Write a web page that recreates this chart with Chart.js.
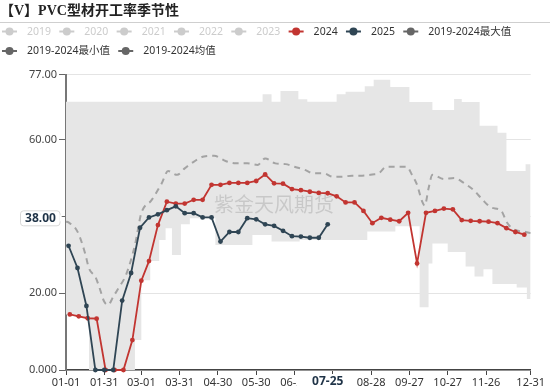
<!DOCTYPE html>
<html><head><meta charset="utf-8">
<script src="https://cdn.jsdelivr.net/npm/chart.js@4.4.1/dist/chart.umd.min.js"></script>
<style>html,body{margin:0;padding:0;background:#fff;}#wrap{width:550px;height:388px;position:relative;}</style>
</head><body><div id="wrap"><canvas id="c" width="550" height="388"></canvas></div>
<script>
// ---------- data ----------
const titleText = '【V】PVC型材开工率季节性';
const watermarkText = '紫金天风期货';
const legendLabels = ['2019','2020','2021','2022','2023','2024','2025','2019-2024最大值','2019-2024最小值','2019-2024均值'];
const legendActive = [false,false,false,false,false,true,true,true,true,true];

const xTickDates = ['01-01','01-31','03-01','03-31','04-30','05-30','06-29','07-29','08-28','09-27','10-27','11-26','12-31'];
const yTickValues = [0,20,40,60,77];
const yTickLabels = ['0.000','20.00','40.00','60.00','77.00'];

const dates2024 = ['01-04','01-11','01-18','01-25','02-01','02-08','02-15','02-22','03-01','03-07','03-14','03-21','03-28','04-04','04-11','04-18','04-25','05-02','05-09','05-16','05-23','05-30','06-06','06-13','06-20','06-27','07-04','07-11','07-18','07-25','08-01','08-08','08-15','08-22','08-29','09-05','09-12','09-19','09-26','10-03','10-10','10-17','10-24','10-31','11-07','11-14','11-21','11-28','12-05','12-12','12-19','12-26'];
const values2024 = [14.5,14.0,13.5,13.4,0,0,0,7.8,23.3,28.4,37.8,43.9,43.4,43.4,44.4,44.4,48.3,48.3,48.8,48.8,48.8,49.3,51.0,48.7,48.6,47.2,46.9,46.5,46.2,46.1,45.3,43.7,43.7,41.5,38.3,39.7,39.2,38.8,41.0,27.8,41.0,41.5,42.1,41.9,39.1,38.9,38.8,38.7,38.3,37.0,36.0,35.3];

const dates2025 = ['01-03','01-10','01-17','01-24','01-31','02-07','02-14','02-21','02-28','03-07','03-14','03-21','03-28','04-04','04-11','04-18','04-25','05-02','05-09','05-16','05-23','05-30','06-06','06-13','06-20','06-27','07-04','07-11','07-18','07-25'];
const values2025 = [32.4,26.6,16.7,0,0,0,18.1,25.3,37.1,39.8,40.6,41.7,42.7,40.9,40.9,39.8,39.8,33.5,36.0,36.0,39.6,39.3,38.0,37.6,36.3,34.9,34.8,34.5,34.5,38.0];

const meanDates = ['01-01','01-03','01-10','01-16','01-19','01-24','01-27','01-31','02-03','02-07','02-11','02-17','02-24','03-01','03-09','03-17','03-22','03-29','04-04','04-11','04-19','04-27','05-06','05-14','05-23','05-31','06-06','06-14','06-22','06-29','07-07','07-14','07-22','07-29','08-05','08-13','08-21','08-29','09-03','09-09','09-16','09-25','09-29','10-03','10-07','10-09','10-12','10-15','10-24','11-01','11-09','11-17','11-23','11-30','12-08','12-12','12-17','12-27','12-31'];
const meanValues = [38.7,38.5,36.1,30.4,26.5,24.3,21.7,17.8,17.0,19.1,21.3,24.8,32.6,40.9,44.3,48.7,51.9,50.9,52.6,54.3,55.7,55.9,54.5,53.9,53.9,53.5,55.2,53.9,53.7,53.0,52.2,51.3,51.3,50.4,50.4,50.7,50.7,51.0,51.3,53.0,53.0,53.0,50.9,48.3,43.9,42.9,47.4,50.9,49.8,50.1,48.7,46.7,44.5,42.4,41.5,38.7,36.8,36.0,35.7];

const maxDates = ['01-01','06-04','06-11','06-18','07-02','07-09','08-01','08-08','08-23','08-30','09-12','09-27','10-15','11-01','11-07','11-21','12-05','12-12','12-27','12-31'];
const maxValues = [70.0,71.9,70.0,72.8,70.6,70.0,71.9,72.6,74.0,75.7,73.8,69.9,67.8,70.7,69.9,63.7,61.9,51.9,53.7,53.7];

const minDates = ['01-01','01-08','01-15','01-19','02-24','03-01','03-08','03-15','03-20','03-25','04-01','04-08','04-28','05-27','06-11','07-03','08-25','09-16','10-05','10-12','10-15','10-27','11-10','11-17','11-24','12-01','12-20','12-28','12-31'];
const minValues = [14.5,14.0,13.5,0,7.8,23.4,28.4,33.9,37.0,30.0,38.0,39.6,32.6,35.2,33.5,33.9,36.1,37.5,16.4,27.8,33.0,30.8,27.0,24.4,26.3,22.4,21.5,18.5,18.5];

const pointerDate = '07-25';
const pointerValue = 38.00;

// ---------- helpers ----------
const monthStart = [0,31,59,90,120,151,181,212,243,273,304,334];
function dayIndex(mmdd){ const p = mmdd.split('-').map(Number); return monthStart[p[0]-1] + p[1] - 1; }
function pts(dates, vals){ return dates.map((d,i)=>({x: dayIndex(d), y: vals[i]})); }
const tickLabelByDay = {}; xTickDates.forEach(d=>{ tickLabelByDay[dayIndex(d)] = d; });

const RED = '#c23531', NAVY = '#2f4554', GRAY = '#666666', DIS = '#cccccc';
const legendColors = ['#ccc','#ccc','#ccc','#ccc','#ccc',RED,NAVY,GRAY,GRAY,GRAY];

const deco = {
  id: 'deco',
  afterDatasetDraw(chart, args){
    if (args.index !== 3) return;
    const ctx = chart.ctx; ctx.save();
    ctx.font = '20px "Noto Sans CJK SC"';
    ctx.fillStyle = 'rgba(0,0,0,0.13)';
    ctx.textAlign = 'center'; ctx.textBaseline = 'middle';
    ctx.fillText(watermarkText, 274, 204);
    ctx.restore();
  },
  afterDraw(chart){
    const ctx = chart.ctx; ctx.save();
    // title
    ctx.font = 'bold 14px "Liberation Serif","Noto Sans CJK SC"';
    ctx.fillStyle = '#222'; ctx.textBaseline = 'middle'; ctx.textAlign = 'left';
    ctx.fillText(titleText, 0, 11);
    ctx.strokeStyle = '#cfcfcf'; ctx.lineWidth = 1;
    ctx.beginPath(); ctx.moveTo(0, 22.5); ctx.lineTo(550, 22.5); ctx.stroke();
    // legend
    ctx.font = '10.5px "Noto Sans","Noto Sans CJK SC"';
    let x = 2, y = 31.5;
    legendLabels.forEach((lab, i) => {
      const tw = ctx.measureText(lab).width;
      const w = 25 + tw;
      if (x + w > 545) { x = 2; y += 19.5; }
      const col = legendActive[i] ? legendColors[i] : DIS;
      ctx.strokeStyle = col; ctx.lineWidth = 2;
      ctx.beginPath(); ctx.moveTo(x, y); ctx.lineTo(x + 15, y); ctx.stroke();
      ctx.fillStyle = col; ctx.beginPath(); ctx.arc(x + 7.5, y, 4, 0, Math.PI*2); ctx.fill();
      ctx.fillStyle = legendActive[i] ? '#333' : DIS;
      ctx.textBaseline = 'middle';
      ctx.fillText(lab, x + 25, y + 0.5);
      x += w + 8.3;
    });
    // axis pointer labels
    const ys = chart.scales.y, xs = chart.scales.x;
    const py = ys.getPixelForValue(pointerValue);
    const cy = py - 6;
    ctx.fillStyle = '#fff'; ctx.strokeStyle = '#d8d8d8'; ctx.lineWidth = 1;
    ctx.beginPath();
    ctx.roundRect(20.5, cy - 7.5, 39.5, 15, 3);
    ctx.fill(); ctx.stroke();
    ctx.beginPath(); ctx.moveTo(59.5, cy - 4); ctx.lineTo(63.5, cy); ctx.lineTo(59.5, cy + 4); ctx.closePath(); ctx.fill();
    ctx.font = 'bold 12px "Noto Sans"'; ctx.fillStyle = '#1f3347';
    ctx.textAlign = 'center'; ctx.textBaseline = 'middle';
    ctx.fillText(pointerValue.toFixed(2), 40.5, cy + 0.5);
    const px = xs.getPixelForValue(dayIndex(pointerDate));
    ctx.fillStyle = '#fff';
    ctx.fillRect(px - 31, 374, 59, 14);
    ctx.fillStyle = '#1f3347';
    ctx.fillText(pointerDate, px, 381.5);
    ctx.restore();
  }
};

new Chart(document.getElementById('c'), {
  type: 'line',
  data: {
    datasets: [
      { label: '2025', data: pts(dates2025, values2025), borderColor: NAVY, backgroundColor: NAVY,
        borderWidth: 1.8, pointRadius: 2.4, pointBorderWidth: 0, pointBackgroundColor: NAVY, fill: false, tension: 0, order: 0, clip: 6 },
      { label: '2024', data: pts(dates2024, values2024), borderColor: RED, backgroundColor: RED,
        borderWidth: 1.8, pointRadius: 2.4, pointBorderWidth: 0, pointBackgroundColor: RED, fill: false, tension: 0, order: 1, clip: 6 },
      { label: '2019-2024均值', data: pts(meanDates, meanValues), borderColor: '#a3a3a3',
        borderWidth: 2, borderDash: [6, 5], pointRadius: 0, fill: false, cubicInterpolationMode: 'monotone', order: 2 },
      { label: '2019-2024最大值', data: pts(maxDates, maxValues), borderColor: 'rgba(0,0,0,0)', borderWidth: 0,
        backgroundColor: '#e6e6e6', pointRadius: 0, stepped: 'before', fill: '+1', order: 3 },
      { label: '2019-2024最小值', data: pts(minDates, minValues), borderColor: 'rgba(0,0,0,0)', borderWidth: 0,
        pointRadius: 0, stepped: 'before', fill: false, order: 4 }
    ]
  },
  options: {
    responsive: false, animation: false, devicePixelRatio: 1,
    layout: { padding: { left: 0, right: 19.3, top: 74.8, bottom: 0 } },
    plugins: { legend: { display: false }, tooltip: { enabled: false }, title: { display: false } },
    scales: {
      x: {
        type: 'linear', min: 0, max: 364,
        afterBuildTicks(s){ s.ticks = xTickDates.map(d => ({ value: dayIndex(d) })); },
        afterFit(s){ s.height = 18; },
        ticks: { autoSkip: false, maxRotation: 0, padding: 1, color: '#333',
          font: { size: 11, family: '"Noto Sans"' },
          callback: v => tickLabelByDay[v] || '' },
        grid: { drawOnChartArea: false, drawTicks: true, tickLength: 5, tickColor: '#444' },
        border: { color: '#444', width: 1.5 }
      },
      y: {
        min: 0, max: 77,
        afterBuildTicks(s){ s.ticks = yTickValues.map(v => ({ value: v })); },
        afterFit(s){ s.width = 66; },
        ticks: { padding: 2, color: '#444', font: { size: 11, family: '"Noto Sans"' },
          callback: v => yTickLabels[yTickValues.indexOf(v)] },
        grid: { color: '#e4e4e4', lineWidth: 1, tickLength: 7, tickColor: '#666' },
        border: { color: '#777', width: 2 }
      }
    }
  },
  plugins: [deco]
});
</script></body></html>
